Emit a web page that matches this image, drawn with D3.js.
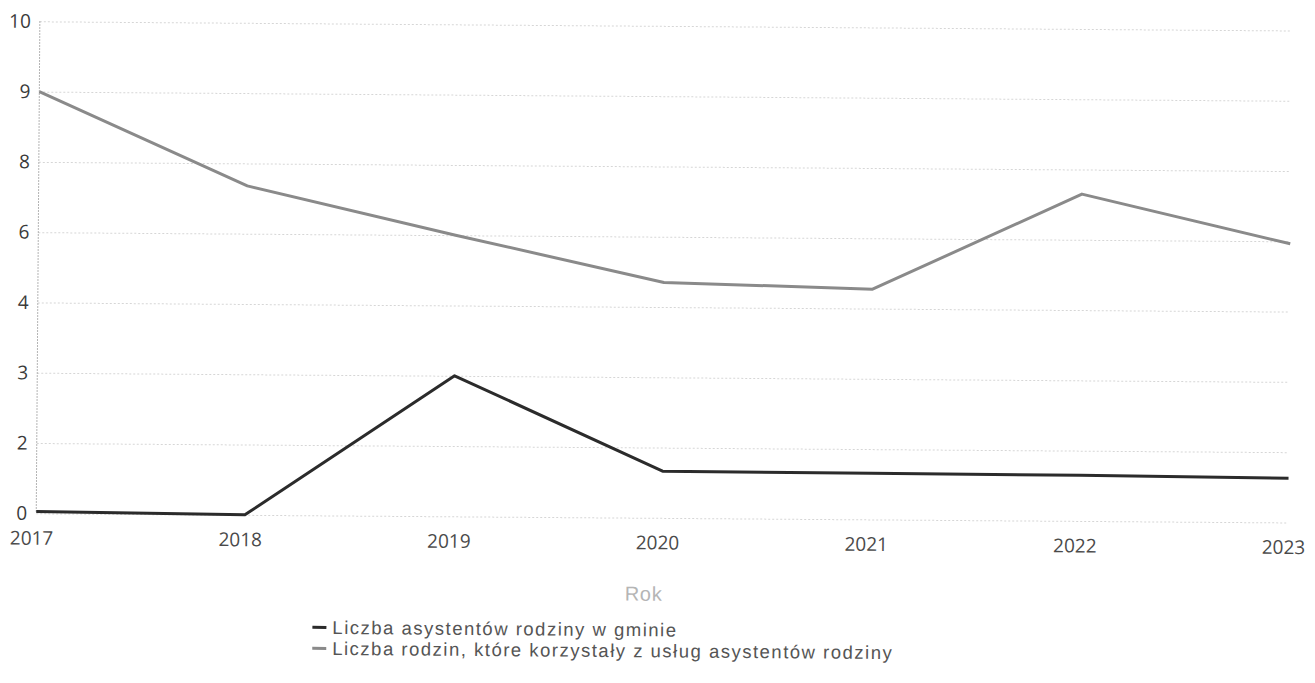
<!DOCTYPE html>
<html><head><meta charset="utf-8">
<script src="https://cdn.jsdelivr.net/npm/d3@7"></script>
<style>body{margin:0;background:#fff}svg{display:block}</style>
</head><body>
<svg id="c" width="1315" height="683"></svg>
<script>
const years = ["2017","2018","2019","2020","2021","2022","2023"];
const yTicks = [0,2,3,4,6,8,9,10];
const asystenci = [0.05,0,3,1.33,1.31,1.3,1.26];
const rodziny = [9,7.36,6,4.7,4.55,7.3,5.93];
const seriesNames = ["Liczba asystentów rodziny w gminie","Liczba rodzin, które korzystały z usług asystentów rodziny"];
const seriesColors = ["#2b2b2b","#8a8a8a"];

(function(){
const svg = d3.select("#c");
const g = svg.append("g").attr("transform","rotate(0.42)");
const pl = 40, pr = 1292, pt = 21, pb = 513;
const x = d3.scalePoint().domain(years).range([pl,pr]);
const yRange = yTicks.map((d,i)=> pb - i*(pb-pt)/(yTicks.length-1));
const y = d3.scaleLinear().domain(yTicks).range(yRange);

const yAxis = d3.axisLeft(y).tickValues(yTicks).tickSize(-(pr-pl)).tickFormat(d3.format("d"));
const ga = g.append("g").attr("transform",`translate(${pl},0)`).call(yAxis);
ga.select(".domain").remove();
ga.selectAll(".tick line").attr("stroke","#d6d6d6").attr("stroke-dasharray","2,2");
ga.selectAll(".tick text").attr("x",-9).attr("font-family","Open Sans").attr("font-size",19).attr("fill","#3a3a3a");
g.append("line").attr("x1",pl).attr("x2",pl).attr("y1",pt).attr("y2",pb)
 .attr("stroke","#9a9a9a").attr("stroke-dasharray","1.5,1.5");

const xAxis = d3.axisBottom(x).tickSize(0).tickPadding(18);
const gx = g.append("g").attr("transform",`translate(0,${pb})`).call(xAxis);
gx.select(".domain").remove();
gx.selectAll(".tick text").attr("dx",-5).attr("font-family","Open Sans").attr("font-size",19).attr("fill","#4a4a4a");

const line = d3.line().x((d,i)=>x(years[i])).y(d=>y(d));
[asystenci, rodziny].forEach((s,k)=>{
  g.append("path").datum(s).attr("d",line).attr("fill","none")
   .attr("stroke",seriesColors[k]).attr("stroke-width",3).attr("stroke-linejoin","round");
});

g.append("text").attr("x",648).attr("y",596).attr("text-anchor","middle")
 .attr("font-family","Liberation Sans").attr("font-size",20).attr("letter-spacing",0.8)
 .attr("fill","#b5b5b5").text("Rok");

const lg = g.append("g").attr("transform","translate(317,625)");
seriesNames.forEach((n,i)=>{
  lg.append("line").attr("x1",0).attr("x2",14).attr("y1",i*21).attr("y2",i*21)
    .attr("stroke",seriesColors[i]).attr("stroke-width",3);
  lg.append("text").attr("x",20).attr("y",i*21+6.5).attr("font-family","Liberation Sans")
    .attr("font-size",18.5).attr("letter-spacing",1.5).attr("fill","#555").text(n);
});
})();
</script>
</body></html>
